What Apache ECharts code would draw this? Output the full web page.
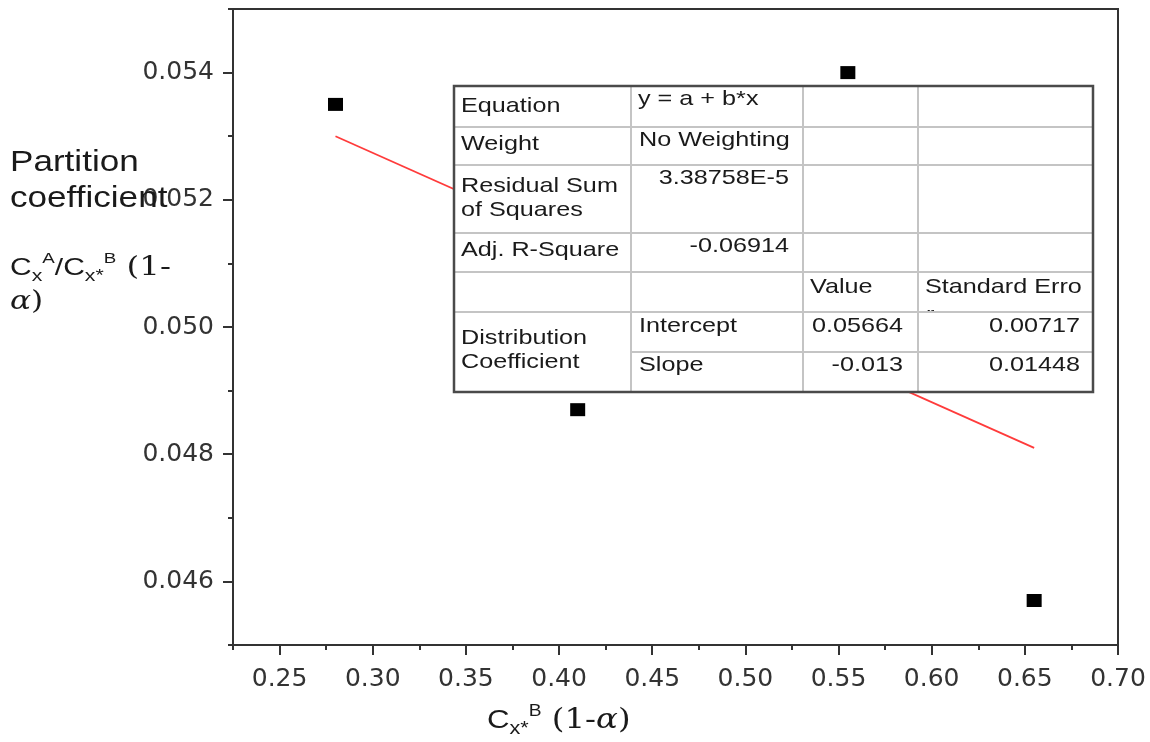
<!DOCTYPE html>
<html>
<head>
<meta charset="utf-8">
<script src="https://cdn.jsdelivr.net/npm/echarts@6/dist/echarts.min.js"></script>
<style>
html,body{margin:0;padding:0;background:#fff;}
#chart{width:1150px;height:742px;}
</style>
</head>
<body>
<div id="chart"></div>
<script>
// ---- data ----
const xValues = [0.28, 0.41, 0.555, 0.655];
const yValues = [0.0535, 0.0487, 0.0540, 0.0457];
const fitX = [0.28, 0.655];
const fitY = [0.0530, 0.0481];
const xMajorTicks = [0.25, 0.30, 0.35, 0.40, 0.45, 0.50, 0.55, 0.60, 0.65, 0.70];
const xMinorTicks = [0.225, 0.275, 0.325, 0.375, 0.425, 0.475, 0.525, 0.575, 0.625, 0.675];
const yMajorTicks = [0.046, 0.048, 0.050, 0.052, 0.054];
const yMinorTicks = [0.045, 0.047, 0.049, 0.051, 0.053, 0.055];
const tableRowLabels = ['Equation', 'Weight', 'Residual Sum\nof Squares', 'Adj. R-Square', '', 'Distribution\nCoefficient'];
const tableRowValues = ['y = a + b*x', 'No Weighting', '3.38758E-5', '-0.06914'];
const paramHeaders = ['Value', 'Standard Erro'];
const paramNames = ['Intercept', 'Slope'];
const paramValues = ['0.05664', '-0.013'];
const paramErrors = ['0.00717', '0.01448'];

const chart = echarts.init(document.getElementById('chart'), null, {renderer: 'canvas'});

const AX = '#333';
const TF = '"Liberation Sans", Arial, sans-serif';
const SX = 1.2;

function txt(text, x, y, align, extra) {
  const style = Object.assign({
    text: text,
    font: '21px ' + TF,
    fill: '#1a1a1a',
    textAlign: align, align: align,
    textVerticalAlign: 'middle', verticalAlign: 'middle',
    lineHeight: 24
  }, extra || {});
  return {type: 'text', x: x, y: y, scaleX: SX, z: 110, style: style};
}

// table layout
const colX = [454, 631, 803, 918, 1093];
const rowY = [86, 127, 165, 233, 272, 312, 352, 392];
const tbl = [];
tbl.push({type: 'rect', z: 100, shape: {x: colX[0], y: rowY[0], width: colX[4] - colX[0], height: rowY[7] - rowY[0]}, style: {fill: '#fff', stroke: null}});
const gridLine = {stroke: '#c4c4c4', lineWidth: 2};
for (let i = 1; i <= 5; i++) {
  tbl.push({type: 'line', z: 101, shape: {x1: colX[0], y1: rowY[i], x2: colX[4], y2: rowY[i]}, style: gridLine});
}
tbl.push({type: 'line', z: 101, shape: {x1: colX[1], y1: rowY[6], x2: colX[4], y2: rowY[6]}, style: gridLine});
for (let j = 1; j <= 3; j++) {
  tbl.push({type: 'line', z: 101, shape: {x1: colX[j], y1: rowY[0], x2: colX[j], y2: rowY[7]}, style: gridLine});
}
// row labels
const labelCenters = [106, 144, 198, 250, 0, 350];
tableRowLabels.forEach((t, i) => { if (t) tbl.push(txt(t, 461, labelCenters[i], 'left')); });
// values column 2
tbl.push(txt(tableRowValues[0], 638, 99, 'left'));
tbl.push(txt(tableRowValues[1], 639, 140, 'left'));
tbl.push(txt(tableRowValues[2], 789, 178, 'right'));
tbl.push(txt(tableRowValues[3], 789, 246, 'right'));
// parameter headers
tbl.push(txt(paramHeaders[0], 810, 287, 'left'));
// cut-off "r" below "Standard Erro"
tbl.push(txt('r', 926, 315, 'left'));
tbl.push({type: 'rect', z: 111, shape: {x: 920, y: 313, width: 40, height: 30}, style: {fill: '#fff'}});
tbl.push({type: 'line', z: 112, shape: {x1: colX[3], y1: rowY[5], x2: colX[4], y2: rowY[5]}, style: gridLine});
tbl.push(txt(paramHeaders[1], 925, 287, 'left'));
const pCenters = [326, 365];
paramNames.forEach((t, i) => {
  tbl.push(txt(t, 639, pCenters[i], 'left'));
  tbl.push(txt(paramValues[i], 903, pCenters[i], 'right'));
  tbl.push(txt(paramErrors[i], 1080, pCenters[i], 'right'));
});
tbl.push({type: 'rect', z: 120, shape: {x: colX[0], y: rowY[0], width: colX[4] - colX[0], height: rowY[7] - rowY[0]}, style: {fill: null, stroke: '#4a4a4a', lineWidth: 2.5}});

// axis titles
function richSet(cs, subs, sups, ss) {
  return {
    c: {fontFamily: 'Liberation Sans', fontSize: cs, lineHeight: 34, verticalAlign: 'middle', fill: '#1a1a1a'},
    sub: {fontFamily: 'Liberation Sans', fontSize: subs, lineHeight: 22, verticalAlign: 'bottom', fill: '#1a1a1a'},
    sup: {fontFamily: 'Liberation Sans', fontSize: sups, lineHeight: 14, verticalAlign: 'top', fill: '#1a1a1a'},
    s: {fontFamily: 'DejaVu Serif', fontSize: ss, lineHeight: 34, verticalAlign: 'middle', fill: '#1a1a1a'},
    a: {fontFamily: 'DejaVu Serif', fontStyle: 'italic', fontSize: ss, lineHeight: 34, verticalAlign: 'middle', fill: '#1a1a1a'}
  };
}
const richY = richSet(24, 17, 15, 26);
const richX = richSet(26, 18, 16, 27);
const titles = [
  {type: 'text', x: 10, y: 163, scaleX: 1.17, z: 50, style: {text: 'Partition', font: '30px ' + TF, fill: '#1a1a1a', textVerticalAlign: 'middle', verticalAlign: 'middle'}},
  {type: 'text', x: 10, y: 199, scaleX: 1.17, z: 50, style: {text: 'coefficient', font: '30px ' + TF, fill: '#1a1a1a', textVerticalAlign: 'middle', verticalAlign: 'middle'}},
  {type: 'text', x: 10, y: 268, scaleX: 1.25, z: 50, style: {text: '{c|C}{sub|x}{sup|A}{c|/C}{sub|x*}{sup|B}{s| (1-}', rich: richY, textVerticalAlign: 'middle', verticalAlign: 'middle'}},
  {type: 'text', x: 10, y: 302, scaleX: 1.2, z: 50, style: {text: '{a|α}{s|)}', rich: richY, textVerticalAlign: 'middle', verticalAlign: 'middle'}},
  {type: 'text', x: 487, y: 721, scaleX: 1.2, z: 50, style: {text: '{c|C}{sub|x*}{sup|B}{s| (1-}{a|α}{s|)}', rich: richX, textVerticalAlign: 'middle', verticalAlign: 'middle'}}
];

const labelStyle = {fontFamily: 'DejaVu Sans', fontSize: 25, color: AX};

const option = {
  animation: false,
  backgroundColor: '#fff',
  grid: {left: 233, right: 32, top: 9, bottom: 97, show: true, borderColor: AX, borderWidth: 2, backgroundColor: 'transparent'},
  xAxis: [
    {type: 'value', min: 0.225, max: 0.70, position: 'bottom',
     axisLine: {show: true, lineStyle: {color: AX, width: 2}},
     axisTick: {show: true, customValues: xMajorTicks, length: 10, lineStyle: {color: AX, width: 2}},
     axisLabel: Object.assign({customValues: xMajorTicks, margin: 22, formatter: v => v.toFixed(2)}, labelStyle),
     splitLine: {show: false}},
    {type: 'value', min: 0.225, max: 0.70, position: 'bottom', offset: 0,
     axisLine: {show: false},
     axisTick: {show: true, customValues: xMinorTicks, length: 5, lineStyle: {color: AX, width: 2}},
     axisLabel: {show: false}, splitLine: {show: false}}
  ],
  yAxis: [
    {type: 'value', min: 0.045, max: 0.055, position: 'left',
     axisLine: {show: true, lineStyle: {color: AX, width: 2}},
     axisTick: {show: true, customValues: yMajorTicks, length: 10, lineStyle: {color: AX, width: 2}},
     axisLabel: Object.assign({customValues: yMajorTicks, margin: 19, formatter: v => v.toFixed(3)}, labelStyle),
     splitLine: {show: false}},
    {type: 'value', min: 0.045, max: 0.055, position: 'left', offset: 0,
     axisLine: {show: false},
     axisTick: {show: true, customValues: yMinorTicks, length: 5, lineStyle: {color: AX, width: 2}},
     axisLabel: {show: false}, splitLine: {show: false}}
  ],
  series: [
    {type: 'line', xAxisIndex: 0, yAxisIndex: 0, data: fitX.map((x, i) => [x, fitY[i]]),
     showSymbol: false, symbol: 'none', lineStyle: {color: '#ff3b3b', width: 1.8}, z: 2},
    {type: 'scatter', xAxisIndex: 0, yAxisIndex: 0, data: xValues.map((x, i) => [x, yValues[i]]),
     symbol: 'rect', symbolSize: [15, 13], itemStyle: {color: '#000', opacity: 1}, z: 3}
  ],
  graphic: {elements: titles.concat(tbl)}
};
chart.setOption(option);
</script>
</body>
</html>
